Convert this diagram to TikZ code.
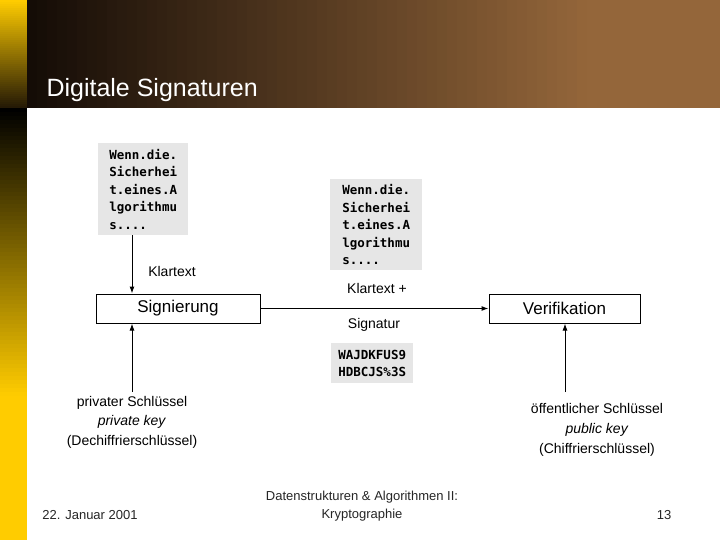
\documentclass[tikz,border=0pt]{standalone}
\usepackage{fontspec}
\setmainfont{Liberation Sans}
\newfontfamily\codefont{DejaVu Sans Mono}
\usetikzlibrary{arrows.meta}
\definecolor{hdark}{HTML}{140C06}
\definecolor{hmid}{HTML}{6E4A26}
\definecolor{hlight}{HTML}{94663A}
\definecolor{barY}{rgb}{1,0.8,0}
\definecolor{codebg}{HTML}{E6E6E6}
\tikzset{
  code/.style={fill=codebg,inner sep=3pt,font=\codefont\bfseries\fontsize{12.5}{17.5}\selectfont,align=left,anchor=north west},
  proc/.style={draw,line width=1pt,minimum height=29pt,font=\fontsize{17}{19}\selectfont},
  lbl/.style={font=\fontsize{14}{19.5}\selectfont,align=center},
  foot/.style={font=\fontsize{13}{18}\selectfont,text=black!85},
  arr/.style={line width=1pt,-{Latex[length=7pt,width=5pt]}}
}
\begin{document}
\begin{tikzpicture}[x=1pt,y=-1pt]
\useasboundingbox (0,0) rectangle (720,540);
\fill[white] (0,0) rectangle (720,540);
% left bar
\foreach \i in {0,...,53}{
  \pgfmathsetmacro{\p}{100-\i*1.75}
  \fill[barY!\p!hdark] (0,\i*2) rectangle (27,\i*2+2.6);
}
\foreach \i in {0,...,108}{
  \pgfmathsetmacro{\p}{min(100,\i*1.4)}
  \fill[barY!\p!black] (0,108+\i*4) rectangle (27,108+\i*4+4.6);
}
% header
\foreach \i in {0,...,69}{
  \pgfmathsetmacro{\p}{min(100,\i*1.8)}
  \fill[hlight!\p!hdark] (27+\i*10,0) rectangle (27+\i*10+10.5,108);
}
\node[anchor=base west,text=white,font=\fontsize{25}{27}\selectfont] (title) at (43,97) {Digitale Signaturen};
% code boxes
\node[code,minimum width=90pt,minimum height=92pt] (pt1) at (98,143) {Wenn.die.\\Sicherhei\\t.eines.A\\lgorithmu\\s....};
\node[code,minimum width=92pt,minimum height=91pt] (pt2) at (330,179) {Wenn.die.\\Sicherhei\\t.eines.A\\lgorithmu\\s....};
\node[code,minimum width=82pt,minimum height=40pt] (sig) at (331,343) {WAJDKFUS9\\HDBCJS\%3S};
% process boxes
\node[proc,minimum width=164pt] (sgn) at (178,308.5) {Signierung};
\node[proc,minimum width=151pt] (ver) at (564.5,308.5) {Verifikation};
% arrows
\draw[arr] (pt1.south -| 132,0) -- (sgn.north -| 132,0);
\node[lbl] (kt) at (172,271) {Klartext};
\draw[arr] (sgn.east) -- (ver.west);
\node[lbl] (kp) at (377,288) {Klartext +};
\node[lbl] (sn) at (374,325) {Signatur};
\coordinate (lb) at (132,392);
\coordinate (rb) at (565,392);
\draw[arr] (lb) -- (sgn.south -| lb);
\draw[arr] (rb) -- (ver.south -| rb);
\node[lbl] (pk) at (132,422) {privater Schlüssel\\\textit{private key}\\(Dechiffrierschlüssel)};
\node[lbl,font=\fontsize{14}{20}\selectfont] (ok) at (597,430) {öffentlicher Schlüssel\\\textit{public key}\\(Chiffrierschlüssel)};
% footer
\node[foot] (date) at (90,515) {22. Januar 2001};
\node[foot,align=center] (course) at (362,506) {Datenstrukturen \& Algorithmen II:\\Kryptographie};
\node[foot] (page) at (664,515) {13};
\end{tikzpicture}
\end{document}
